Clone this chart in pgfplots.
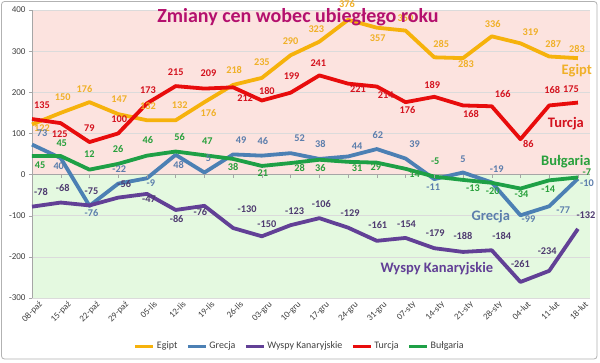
\documentclass[border=0pt]{standalone}
\usepackage{pgfplots}
\pgfplotsset{compat=1.18}
\usepackage{pgfplotstable}
\usepackage{fontspec}
\setmainfont{Carlito}
\definecolor{cEg}{RGB}{246,178,12}
\definecolor{lEg}{RGB}{240,176,40}
\definecolor{cTu}{RGB}{232,12,12}
\definecolor{lTu}{RGB}{212,18,30}
\definecolor{cGr}{RGB}{76,128,180}
\definecolor{lGr}{RGB}{92,126,172}
\definecolor{cWy}{RGB}{98,64,150}
\definecolor{lWy}{RGB}{78,58,112}
\definecolor{cBu}{RGB}{30,160,70}
\definecolor{lBu}{RGB}{40,160,60}
\definecolor{bgP}{RGB}{252,227,223}
\definecolor{bgG}{RGB}{228,249,224}
\definecolor{tit}{RGB}{180,16,110}
\definecolor{tk}{RGB}{64,64,64}

\pgfplotstableread{
x y
0 122
1 150
2 176
3 147
4 132
5 132
6 176
7 218
8 235
9 290
10 323
11 376
12 357
13 350
14 285
15 283
16 336
17 319
18 287
19 283
}\egipt
\pgfplotstableread{
x y
0 73
1 40
2 -76
3 -22
4 -9
5 48
6 5
7 49
8 46
9 52
10 38
11 44
12 62
13 39
14 -11
15 5
16 -19
17 -99
18 -77
19 -10
}\grecja
\pgfplotstableread{
x y
0 -78
1 -68
2 -75
3 -56
4 -47
5 -86
6 -76
7 -130
8 -150
9 -123
10 -106
11 -129
12 -161
13 -154
14 -179
15 -188
16 -184
17 -261
18 -234
19 -132
}\wyspy
\pgfplotstableread{
x y
0 135
1 125
2 79
3 100
4 173
5 215
6 209
7 212
8 180
9 199
10 241
11 221
12 214
13 176
14 189
15 168
16 166
17 86
18 168
19 175
}\turcja
\pgfplotstableread{
x y
0 45
1 45
2 12
3 26
4 46
5 56
6 47
7 38
8 21
9 28
10 36
11 31
12 29
13 14
14 -5
15 -13
16 -20
17 -34
18 -14
19 -7
}\bulgaria

\def\egdx{{10,2,-5,1,1,4,4,1,0,0,-3,-1,1,0,7,3,1,10,4,-1}}
\def\egdy{{-7,12,10,12,11,12,-14,11,12,11,9,12,-14,9,10,-9,9,8,9,6}}
\def\grdx{{10,-2,2,1,4,3,4,8,1,9,1,9,1,9,-1,0,5,8,14,9}}
\def\grdy{{8,-11,-11,11,-8,-14,11,11,11,12,11,7,11,11,-11,10,10,-7,-7,-8}}
\def\wydx{{9,2,2,6,2,1,-4,14,5,4,2,2,1,1,1,0,10,0,-2,8}}
\def\wydy{{11,11,11,10,-9,-13,-10,16,9,11,11,11,12,10,12,12,11,14,16,10}}
\def\tudx{{10,-1,0,1,1,0,4,12,5,1,-1,10,9,2,-2,8,11,8,3,-7}}
\def\tudy{{11,-14,11,11,10,11,12,-14,6,13,9,-9,-12,-11,8,-12,9,-8,12,10}}
\def\budx{{8,1,0,0,1,4,3,0,1,9,1,9,-1,9,1,10,1,1,-1,9}}
\def\budy{{-12,10,12,11,12,11,11,-12,-11,-8,-12,-10,-8,-9,12,-12,-12,-9,-12,2}}

\newcommand\lblnode[3]{%
  \pgfmathsetmacro\lx{#1[\coordindex]}%
  \pgfmathsetmacro\ly{#2[\coordindex]}%
  \makebox[0pt]{\raisebox{\ly pt}[0pt][0pt]{\hspace*{2\dimexpr\lx pt\relax}#3}}}

\begin{document}
\begin{tikzpicture}
\path[use as bounding box] (0,0) rectangle (600pt,362pt);
\fill[white] (0,0) rectangle (600pt,362pt);
\draw[black!30, rounded corners=3pt, line width=0.8pt] (1.5pt,3pt) rectangle (597pt,360.5pt);
\fill[bgP] (32pt,187.43pt) rectangle (590pt,352pt);
\fill[bgG] (32pt,64pt) rectangle (590pt,187.43pt);
\begin{axis}[
  at={(32pt,64pt)}, anchor=south west,
  scale only axis, width=558pt, height=288pt,
  xmin=0, xmax=19.42, ymin=-300, ymax=400,
  clip=false,
  ytick={-300,-200,-100,0,100,200,300,400},
  xtick={0,1,2,3,4,5,6,7,8,9,10,11,12,13,14,15,16,17,18,19},
  xticklabels={08-paź,15-paź,22-paź,29-paź,05-lis,12-lis,19-lis,26-lis,03-gru,10-gru,17-gru,24-gru,31-gru,07-sty,14-sty,21-sty,28-sty,04-lut,11-lut,18-lut},
  axis y line*=left, axis x line*=bottom,
  x axis line style={draw=none},
  y axis line style={draw=black!35, line width=0.6pt},
  xtick style={draw=none},
  ytick style={draw=black!35},
  major tick length=3pt,
  tick align=outside,
  ymajorgrids, grid style={draw=black!14, line width=0.6pt},
  /pgf/number format/assume math mode=true,
  yticklabel style={font=\fontsize{9}{10}\selectfont, text=tk},
  xticklabel style={font=\fontsize{9}{10}\selectfont, text=tk, rotate=45, anchor=north east, inner sep=1pt, xshift=6pt, yshift=-3pt},
  legend style={at={(0.48,-0.1667)}, anchor=center, legend columns=5, draw=none, fill=none,
    font=\fontsize{10}{12}\selectfont, text=tk,
    /tikz/every even column/.append style={column sep=7pt}},
  legend image code/.code={\draw[#1, line width=3pt] (0pt,0pt) -- (18pt,0pt);},
  every node near coord/.append style={anchor=center, inner sep=0pt, font=\bfseries\fontsize{10.3}{12}\selectfont},
]
\draw[black!35, line width=0.6pt] (axis cs:0,0) -- (axis cs:19.42,0);

\addplot[color=cEg, line width=3.8pt, line join=round] table[x=x,y=y]{\egipt};
\addlegendentry{Egipt}
\addplot[color=cGr, line width=3.8pt, line join=round] table[x=x,y=y]{\grecja};
\addlegendentry{Grecja}
\addplot[color=cWy, line width=3.8pt, line join=round] table[x=x,y=y]{\wyspy};
\addlegendentry{Wyspy Kanaryjskie}
\addplot[color=cTu, line width=3.8pt, line join=round] table[x=x,y=y]{\turcja};
\addlegendentry{Turcja}
\addplot[color=cBu, line width=3.8pt, line join=round] table[x=x,y=y]{\bulgaria};
\addlegendentry{Bułgaria}

\addplot[draw=none, forget plot, point meta=explicit symbolic,
  nodes near coords={\lblnode{\egdx}{\egdy}{\pgfplotspointmeta}},
  every node near coord/.append style={text=lEg}] table[x=x,y=y,meta=y]{\egipt};
\addplot[draw=none, forget plot, point meta=explicit symbolic,
  nodes near coords={\lblnode{\grdx}{\grdy}{\pgfplotspointmeta}},
  every node near coord/.append style={text=lGr}] table[x=x,y=y,meta=y]{\grecja};
\addplot[draw=none, forget plot, point meta=explicit symbolic,
  nodes near coords={\lblnode{\wydx}{\wydy}{\pgfplotspointmeta}},
  every node near coord/.append style={text=lWy}] table[x=x,y=y,meta=y]{\wyspy};
\addplot[draw=none, forget plot, point meta=explicit symbolic,
  nodes near coords={\lblnode{\tudx}{\tudy}{\pgfplotspointmeta}},
  every node near coord/.append style={text=lTu}] table[x=x,y=y,meta=y]{\turcja};
\addplot[draw=none, forget plot, point meta=explicit symbolic,
  nodes near coords={\lblnode{\budx}{\budy}{\pgfplotspointmeta}},
  every node near coord/.append style={text=lBu}] table[x=x,y=y,meta=y]{\bulgaria};

\node[text=lEg, font=\bfseries\fontsize{14.5}{16}\selectfont] at (axis cs:18.96,252) {Egipt};
\node[text=lTu, font=\bfseries\fontsize{14.5}{16}\selectfont] at (axis cs:18.58,123) {Turcja};
\node[text=lBu, font=\bfseries\fontsize{14.5}{16}\selectfont] at (axis cs:18.58,31) {Bułgaria};
\node[text=lGr, font=\bfseries\fontsize{14.5}{16}\selectfont] at (axis cs:15.97,-103) {Grecja};
\node[text=cWy, font=\bfseries\fontsize{14.5}{16}\selectfont] at (axis cs:14.09,-229) {Wyspy Kanaryjskie};
\end{axis}
\foreach \i in {0,...,19} \draw[black!35] ({32pt+\i*28.7337pt},187.43pt) -- ++(0,-3pt);
\node[text=tit, font=\bfseries\fontsize{20}{22}\selectfont] at (298pt,345pt) {Zmiany cen wobec ubiegłego roku};
\end{tikzpicture}
\end{document}
